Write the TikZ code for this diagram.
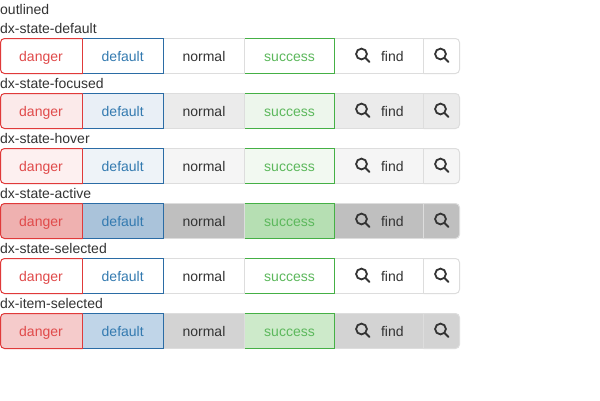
\documentclass[tikz,border=0pt]{standalone}
\usepackage{fontspec}
\setmainfont{Liberation Sans}
\definecolor{txt}{HTML}{333333}
\definecolor{redB}{HTML}{E03A3A}
\definecolor{bluB}{HTML}{2B6CA5}
\definecolor{grnB}{HTML}{45B045}
\definecolor{edge}{HTML}{DDDDDD}
\definecolor{redT}{HTML}{E04A4A}
\definecolor{bluT}{HTML}{337AB0}
\definecolor{grnT}{HTML}{5CB85C}
\definecolor{dA}{HTML}{FFFFFF}\definecolor{bA}{HTML}{FFFFFF}\definecolor{nA}{HTML}{FFFFFF}\definecolor{sA}{HTML}{FFFFFF}
\definecolor{dB}{HTML}{FBEAEA}\definecolor{bB}{HTML}{E9EFF6}\definecolor{nB}{HTML}{EBEBEB}\definecolor{sB}{HTML}{EDF6EC}
\definecolor{dC}{HTML}{FDF0F0}\definecolor{bC}{HTML}{EEF3F8}\definecolor{nC}{HTML}{F5F5F5}\definecolor{sC}{HTML}{F2F9F1}
\definecolor{dD}{HTML}{EFB1B0}\definecolor{bD}{HTML}{AAC3DA}\definecolor{nD}{HTML}{BFBFBF}\definecolor{sD}{HTML}{B6DFB3}
\definecolor{dF}{HTML}{F5CBCB}\definecolor{bF}{HTML}{C0D5E8}\definecolor{nF}{HTML}{D3D3D3}\definecolor{sF}{HTML}{CDEACA}
\tikzset{
  lab/.style={anchor=base west,inner sep=0pt,text=txt,font=\fontsize{14}{16}\selectfont},
  btntext/.style={anchor=base,inner sep=0pt,font=\fontsize{14}{16}\selectfont},
  glass/.style={line width=1.8pt,draw=txt},
  frame/.style={line width=1pt}
}
\newcommand{\loupe}[2]{%
  \draw[glass] (#1,#2) circle[radius=5.4];
  \draw[glass,line width=2pt,line cap=round] (#1+3.9,#2+3.9) -- (#1+8,#2+8);
}
\begin{document}
\begin{tikzpicture}[x=1pt,y=-1pt]
\useasboundingbox (0,0) rectangle (600,400);
\fill[white] (0,0) rectangle (600,400);
\node[lab] (title) at (0,14) {outlined};
\foreach \i/\t/\k in {0/dx-state-default/A,1/dx-state-focused/B,2/dx-state-hover/C,3/dx-state-active/D,4/dx-state-selected/A,5/dx-item-selected/F}{
  \pgfmathsetmacro{\T}{38.5+55*\i}
  \pgfmathsetmacro{\B}{\T+35}
  \pgfmathsetmacro{\M}{\T+22.7}
  \pgfmathsetmacro{\I}{\T+15.5}
  \node[lab] (label\i) at (0,\T-5.5) {\t};
  % buttons overlap by one pixel: the earlier button lies on top
  \draw[frame,draw=edge,fill=n\k,rounded corners=4pt] (423.5,\T) -- (459.5,\T) -- (459.5,\B) -- (423.5,\B);
  \draw[frame,draw=edge,fill=n\k] (334.5,\T) rectangle (423.5,\B);
  \draw[frame,draw=grnB,fill=s\k] (244.5,\T) rectangle (334.5,\B);
  \draw[frame,draw=edge,fill=n\k] (163.5,\T) rectangle (244.5,\B);
  \draw[frame,draw=bluB,fill=b\k] (82.5,\T) rectangle (163.5,\B);
  \draw[frame,draw=redB,fill=d\k,rounded corners=4pt] (82.5,\T) -- (.5,\T) -- (.5,\B) -- (82.5,\B);
  \draw[frame,draw=redB] (82.5,\T) -- (82.5,\B);
  \node[btntext,text=redT] (danger\i) at (41,\M) {danger};
  \node[btntext,text=bluT] (default\i) at (122.7,\M) {default};
  \node[btntext,text=txt] (normal\i) at (204,\M) {normal};
  \node[btntext,text=grnT] (success\i) at (289.5,\M) {success};
  \node[btntext,text=txt] (find\i) at (392.3,\M) {find};
  \loupe{361.5}{\I}
  \loupe{440.5}{\I}
}
\end{tikzpicture}
\end{document}
